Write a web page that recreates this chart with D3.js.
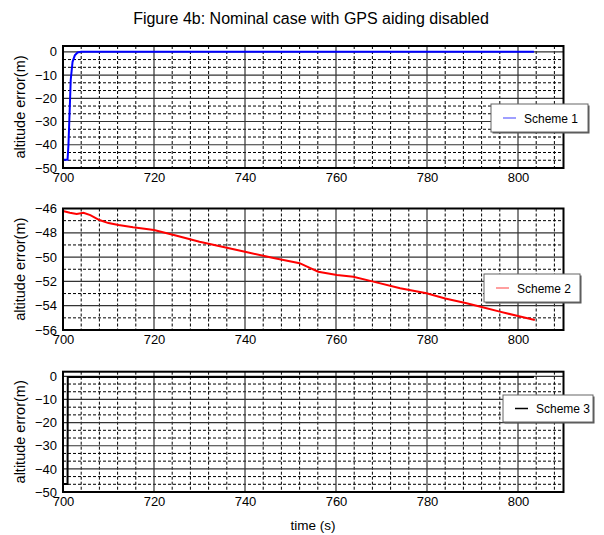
<!DOCTYPE html>
<html>
<head>
<meta charset="utf-8">
<script src="https://cdn.jsdelivr.net/npm/d3@7"></script>
<style>
  body { margin: 0; background: #fff; }
  svg text { font-family: "Liberation Sans", Arial, sans-serif; fill: #000; }
</style>
</head>
<body>
<div id="chart"></div>
<script>
// Figure 4b - altitude error for three schemes, GPS aiding disabled

var titleText = "Figure 4b: Nominal case with GPS aiding disabled";
var xLabel = "time (s)";
var yLabel = "altitude error(m)";

// time axis + tick labels
var xDomain = [700, 810];
var xTicks = [700, 720, 740, 760, 780, 800];

// scheme 1 (blue)
var time1 = [700, 701, 701.2, 701.4, 701.7, 702.1, 702.6, 703.2, 704, 803.5];
var err1 = [-46.5, -46.5, -40, -29, -12, -4.3, -1.5, -0.3, 0, 0];

// scheme 2 (red)
var time2 = [700, 701.5, 703, 704.5, 706, 708, 710, 712.2, 715.4, 720, 725, 730, 735, 740, 746, 752, 754, 756.1, 760.2, 763.8, 768.2, 774.1, 779.9, 784, 788.7, 792, 796, 800, 803.7];
var err2 = [-46.2, -46.35, -46.45, -46.35, -46.55, -46.95, -47.2, -47.36, -47.55, -47.77, -48.25, -48.73, -49.15, -49.56, -50.05, -50.5, -50.85, -51.2, -51.47, -51.61, -52.02, -52.57, -52.98, -53.4, -53.8, -54.1, -54.49, -54.85, -55.18];

// scheme 3 (black)
var time3 = [700, 701, 701.05, 803.5];
var err3 = [-46.5, -46.5, -0.3, -0.3];

var yTicks1 = [-50, -40, -30, -20, -10, 0];
var yTicks2 = [-56, -54, -52, -50, -48, -46];

var width = 604, height = 535;
var left = 63, right = 563.5;

var svg = d3.select("#chart").append("svg")
	.attr("width", width)
	.attr("height", height);

svg.append("text")
	.attr("x", 311).attr("y", 24)
	.attr("text-anchor", "middle")
	.style("font-size", "16px")
	.text(titleText);

svg.append("text")
	.attr("x", 313).attr("y", 530)
	.attr("text-anchor", "middle")
	.style("font-size", "13.5px")
	.text(xLabel);

var x = d3.scaleLinear().domain(xDomain).range([left, right]);

var panels = [
	{ top: 46, bottom: 168, domain: [-50, 2.5], ticks: yTicks1, minorStep: 10 / 3, xs: time1, ys: err1,
	  color: "#0000ff", legendColor: "#7f7fff", name: "Scheme 1", legend: [491, 104, 97, 28] },
	{ top: 208.5, bottom: 330, domain: [-56, -46], ticks: yTicks2, minorStep: 1, xs: time2, ys: err2,
	  color: "#ff0000", legendColor: "#ff7f7f", name: "Scheme 2", legend: [484, 274, 96, 28] },
	{ top: 371.7, bottom: 492, domain: [-50, 2], ticks: yTicks1, minorStep: 10 / 3, xs: time3, ys: err3,
	  color: "#000000", legendColor: "#000000", name: "Scheme 3", legend: [503, 395, 90, 27] }
];

panels.forEach(function(p) {
	var y = d3.scaleLinear().domain(p.domain).range([p.bottom, p.top]);
	var g = svg.append("g");

	// minor grid (dashed)
	var minorX = d3.range(xDomain[0], xDomain[1] + 0.01, 4).filter(function(v) { return v % 20 !== 0 && v < xDomain[1]; });
	var minorY = [];
	for (var i = 0; i < p.ticks.length - 1; i++) {
		for (var v = p.ticks[i] + p.minorStep; v < p.ticks[i + 1] - 0.01; v += p.minorStep) minorY.push(v);
	}
	g.selectAll(".mx").data(minorX).enter().append("line")
		.attr("x1", d => x(d)).attr("x2", d => x(d))
		.attr("y1", p.top).attr("y2", p.bottom)
		.attr("stroke", "#000").attr("stroke-width", 1).attr("stroke-dasharray", "3,2");
	g.selectAll(".my").data(minorY).enter().append("line")
		.attr("y1", d => y(d)).attr("y2", d => y(d))
		.attr("x1", left).attr("x2", right)
		.attr("stroke", "#000").attr("stroke-width", 1).attr("stroke-dasharray", "3,2");

	// major grid (solid)
	g.selectAll(".gx").data(xTicks).enter().append("line")
		.attr("x1", d => x(d)).attr("x2", d => x(d))
		.attr("y1", p.top).attr("y2", p.bottom)
		.attr("stroke", "#333").attr("stroke-width", 1.2);
	g.selectAll(".gy").data(p.ticks).enter().append("line")
		.attr("y1", d => y(d)).attr("y2", d => y(d))
		.attr("x1", left).attr("x2", right)
		.attr("stroke", "#333").attr("stroke-width", 1.2);

	// axes
	g.append("g")
		.attr("transform", "translate(0," + p.bottom + ")")
		.call(d3.axisBottom(x).tickValues(xTicks).tickSize(0).tickPadding(5))
		.call(a => a.select(".domain").remove())
		.selectAll("text").style("font-size", "13px").attr("fill", "#000");
	g.append("g")
		.attr("transform", "translate(" + left + ",0)")
		.call(d3.axisLeft(y).tickValues(p.ticks).tickSize(0).tickPadding(6))
		.call(a => a.select(".domain").remove())
		.selectAll("text").style("font-size", "13px").attr("fill", "#000");

	// data line
	var pts = p.xs.map(function(t, i) { return [t, p.ys[i]]; });
	g.append("path")
		.datum(pts)
		.attr("fill", "none")
		.attr("stroke", p.color)
		.attr("stroke-width", 2)
		.attr("d", d3.line().x(d => x(d[0])).y(d => y(d[1])));

	// box
	g.append("rect")
		.attr("x", left).attr("y", p.top)
		.attr("width", right - left).attr("height", p.bottom - p.top)
		.attr("fill", "none").attr("stroke", "#000").attr("stroke-width", 2);

	// y label
	g.append("text")
		.attr("transform", "translate(25," + ((p.top + p.bottom) / 2) + ") rotate(-90)")
		.attr("text-anchor", "middle")
		.style("font-size", "14.5px")
		.text(yLabel);

	// legend
	var L = p.legend;
	g.append("rect")
		.attr("x", L[0] + 1.5).attr("y", L[1] + 1.5)
		.attr("width", L[2]).attr("height", L[3])
		.attr("fill", "#555");
	g.append("rect")
		.attr("x", L[0]).attr("y", L[1])
		.attr("width", L[2]).attr("height", L[3])
		.attr("fill", "#fff").attr("stroke", "#666").attr("stroke-width", 1);
	g.append("line")
		.attr("x1", L[0] + 12).attr("x2", L[0] + 25)
		.attr("y1", L[1] + L[3] / 2).attr("y2", L[1] + L[3] / 2)
		.attr("stroke", p.legendColor).attr("stroke-width", 1.5);
	g.append("text")
		.attr("x", L[0] + 33).attr("y", L[1] + L[3] / 2 + 4.5)
		.style("font-size", "12px")
		.text(p.name);
});
</script>
</body>
</html>
